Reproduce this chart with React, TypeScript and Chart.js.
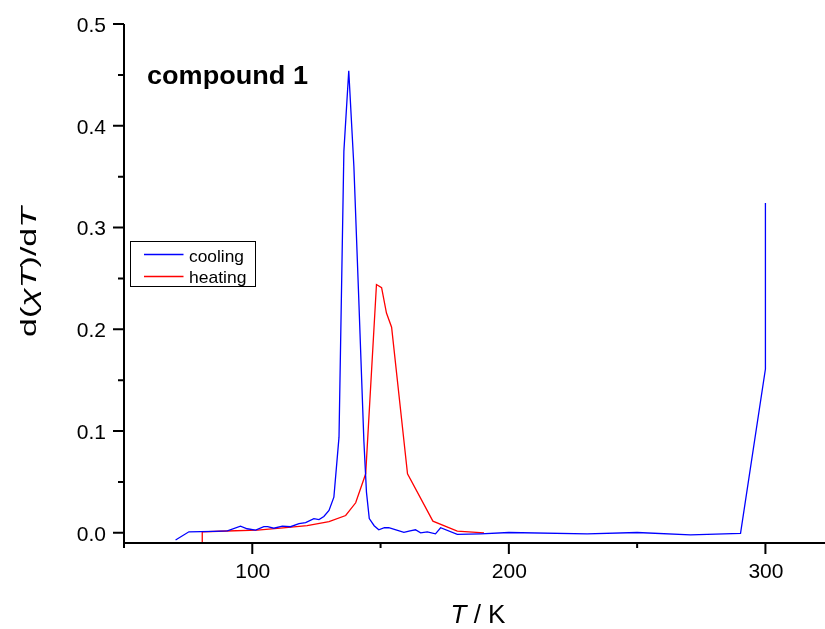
import React, { useEffect, useRef } from "react";
import { Chart, registerables } from "chart.js";
Chart.register(...registerables);

// ---- data ----
const coolingT = [70.1, 75.3, 80, 85, 90.3, 95.4, 98, 101.3, 104.5, 106, 108.4, 111.7, 114.9, 118.2, 120.8, 124, 126, 127.9, 129.9, 131.8, 133.8, 135.7, 137.6, 139.6, 141.5, 143.5, 144.5, 145.6, 147.5, 149.3, 151.5, 153.2, 156, 159.1, 161.5, 163.6, 165.6, 168.2, 171.4, 173.4, 179.9, 189, 200, 230.5, 250, 270.8, 290.3, 300, 300];
const coolingV = [-0.007, 0.001, 0.0012, 0.0015, 0.002, 0.0066, 0.004, 0.0027, 0.006, 0.006, 0.0045, 0.0066, 0.006, 0.009, 0.01, 0.014, 0.013, 0.016, 0.022, 0.035, 0.094, 0.375, 0.454, 0.36, 0.23, 0.09, 0.04, 0.014, 0.007, 0.003, 0.005, 0.005, 0.003, 0.0004, 0.002, 0.003, 0.0, 0.001, -0.001, 0.005, -0.0016, -0.001, 0.0003, -0.001, 0.0003, -0.002, -0.0006, 0.161, 0.324];

const heatingT = [80.5, 80.5, 90, 102, 112, 121.4, 129.9, 136.4, 140.3, 144.2, 148.4, 150.4, 152.3, 154.3, 160.5, 170.4, 179.9, 190.3];
const heatingV = [-0.05, 0.001, 0.0018, 0.0027, 0.0048, 0.007, 0.011, 0.017, 0.0295, 0.058, 0.244, 0.241, 0.216, 0.202, 0.058, 0.0115, 0.0017, 0.0];

const seriesLabels = ["cooling", "heating"];
const yMajorTicks = [0, 0.1, 0.2, 0.3, 0.4, 0.5];
const yTickLabels = ["0.0", "0.1", "0.2", "0.3", "0.4", "0.5"];
const yMinorTicks = [0.05, 0.15, 0.25, 0.35, 0.45];
const xMajorTicks = [100, 200, 300];
const xTickLabels = ["100", "200", "300"];
const xMinorTicks = [50, 150, 250];
const annotationText = "compound 1";

const FONT = "'Liberation Sans', Arial, sans-serif";

type Part = { t: string; font: string };

function drawParts(
  ctx: CanvasRenderingContext2D,
  parts: Part[],
  x: number,
  y: number,
  targetW: number | null,
  align: "left" | "center" | "right",
  rotate = 0
) {
  ctx.save();
  const widths = parts.map((p) => {
    ctx.font = p.font;
    return ctx.measureText(p.t).width;
  });
  const W = widths.reduce((a, b) => a + b, 0);
  const sx = targetW ? targetW / W : 1;
  ctx.translate(x, y);
  if (rotate) ctx.rotate(rotate);
  ctx.scale(sx, 1);
  ctx.textAlign = "left";
  ctx.textBaseline = "alphabetic";
  ctx.fillStyle = "#000";
  let cx = align === "center" ? -W / 2 : align === "right" ? -W : 0;
  parts.forEach((p, i) => {
    ctx.font = p.font;
    ctx.fillText(p.t, cx, 0);
    cx += widths[i];
  });
  ctx.restore();
}

const axesPlugin = {
  id: "originAxes",
  afterDraw(chart: any) {
    const ctx: CanvasRenderingContext2D = chart.ctx;
    const xs = chart.scales.x;
    const ys = chart.scales.y;
    const a = chart.chartArea;
    ctx.save();
    ctx.strokeStyle = "#000";
    ctx.lineWidth = 2;
    ctx.lineCap = "butt";
    // axis lines
    ctx.beginPath();
    ctx.moveTo(a.left, a.top);
    ctx.lineTo(a.left, a.bottom + 1);
    ctx.moveTo(a.left - 1, a.bottom);
    ctx.lineTo(a.right, a.bottom);
    ctx.stroke();
    // y ticks
    ctx.beginPath();
    yMajorTicks.forEach((v) => {
      const py = ys.getPixelForValue(v);
      ctx.moveTo(a.left - 11, py);
      ctx.lineTo(a.left, py);
    });
    yMinorTicks.forEach((v) => {
      const py = ys.getPixelForValue(v);
      ctx.moveTo(a.left - 6, py);
      ctx.lineTo(a.left, py);
    });
    // x ticks
    xMajorTicks.forEach((v) => {
      const px = xs.getPixelForValue(v);
      ctx.moveTo(px, a.bottom);
      ctx.lineTo(px, a.bottom + 11);
    });
    xMinorTicks.forEach((v) => {
      const px = xs.getPixelForValue(v);
      ctx.moveTo(px, a.bottom);
      ctx.lineTo(px, a.bottom + 5);
    });
    ctx.stroke();
    ctx.restore();

    // tick labels
    const tf = `21px ${FONT}`;
    yMajorTicks.forEach((v, i) => {
      const py = ys.getPixelForValue(v);
      drawParts(ctx, [{ t: yTickLabels[i], font: tf }], a.left - 18, py + 7.8, null, "right");
    });
    xMajorTicks.forEach((v, i) => {
      const px = xs.getPixelForValue(v);
      drawParts(ctx, [{ t: xTickLabels[i], font: tf }], px + 0.5, a.bottom + 35, null, "center");
    });

    // axis titles
    drawParts(
      ctx,
      [
        { t: "T", font: `italic 25px ${FONT}` },
        { t: " / K", font: `25px ${FONT}` },
      ],
      450.5,
      622.5,
      55,
      "left"
    );
    drawParts(
      ctx,
      [
        { t: "d(", font: `22px ${FONT}` },
        { t: "\u03C7", font: `italic 22px ${FONT}` },
        { t: "T", font: `italic 22px ${FONT}` },
        { t: ")/d", font: `22px ${FONT}` },
        { t: "T", font: `italic 22px ${FONT}` },
      ],
      36,
      272,
      130,
      "center",
      -Math.PI / 2
    );

    // annotation
    drawParts(ctx, [{ t: annotationText, font: `bold 25px ${FONT}` }], 147, 83.5, 161, "left");

    // legend
    ctx.save();
    ctx.strokeStyle = "#000";
    ctx.lineWidth = 1;
    ctx.strokeRect(130.5, 241.5, 125, 45);
    const colors = chart.data.datasets.map((d: any) => d.borderColor);
    const rows = [254.5, 276.5];
    const bases = [261.5, 282.5];
    rows.forEach((ry, i) => {
      ctx.strokeStyle = colors[i];
      ctx.lineWidth = 1.3;
      ctx.beginPath();
      ctx.moveTo(144, ry);
      ctx.lineTo(183.5, ry);
      ctx.stroke();
    });
    ctx.restore();
    seriesLabels.forEach((s, i) => {
      drawParts(ctx, [{ t: s, font: `17px ${FONT}` }], 189, bases[i], i === 0 ? 55 : 57.5, "left");
    });
  },
};

export default function App() {
  const ref = useRef<HTMLCanvasElement>(null);
  useEffect(() => {
    const canvas = ref.current!;
    const chart = new Chart(canvas, {
      type: "line",
      data: {
        datasets: [
          {
            label: seriesLabels[0],
            data: coolingT.map((t, i) => ({ x: t, y: coolingV[i] })),
            borderColor: "#0000FF",
            borderWidth: 1.3,
            pointRadius: 0,
            tension: 0,
            fill: false,
            clip: 0,
          },
          {
            label: seriesLabels[1],
            data: heatingT.map((t, i) => ({ x: t, y: heatingV[i] })),
            borderColor: "#FF0000",
            borderWidth: 1.3,
            pointRadius: 0,
            tension: 0,
            fill: false,
            clip: 0,
          },
        ],
      } as any,
      options: {
        responsive: false,
        animation: false,
        devicePixelRatio: 1,
        layout: { padding: { top: 24, left: 0, right: 0, bottom: 0 } },
        plugins: { legend: { display: false }, tooltip: { enabled: false } },
        scales: {
          x: {
            type: "linear",
            min: 50,
            max: 324,
            grid: { display: false },
            border: { display: false },
            ticks: { display: false },
            afterFit: (s: any) => {
              s.height = 86;
            },
          },
          y: {
            type: "linear",
            min: -0.01,
            max: 0.5,
            grid: { display: false },
            border: { display: false },
            ticks: { display: false },
            afterFit: (s: any) => {
              s.width = 124;
            },
          },
        },
      } as any,
      plugins: [axesPlugin],
    });
    return () => chart.destroy();
  }, []);
  return (
    <div
      style={{
        position: "fixed",
        left: 0,
        top: 0,
        width: 825,
        height: 629,
        overflow: "hidden",
        background: "#fff",
      }}
    >
      <canvas ref={ref} width={827} height={629} style={{ display: "block", width: 827, height: 629 }} />
    </div>
  );
}
